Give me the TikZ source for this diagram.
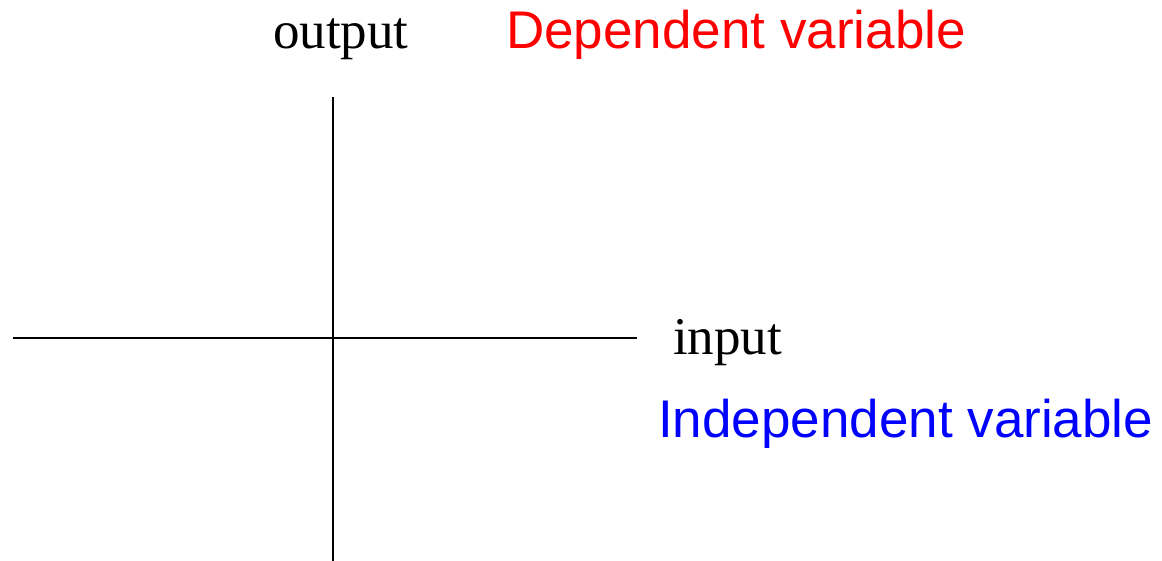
\documentclass[tikz,border=0pt]{standalone}
\usepackage{fontspec}
\setmainfont{Liberation Serif}
\newfontfamily\labelsans{Liberation Sans}
\begin{document}
\begin{tikzpicture}[x=1pt,y=-1pt,
  axis/.style={line width=2pt,black},
  axlabel/.style={inner sep=0pt,anchor=base west,font=\fontsize{53}{60}\selectfont},
  varlabel/.style={inner sep=0pt,anchor=base west,font=\labelsans\fontsize{53}{60}\selectfont}]
  \useasboundingbox (0,0) rectangle (1162,561);
  % axes
  \coordinate (ytop) at (333,97);
  \coordinate (ybot) at (333,561);
  \coordinate (xleft) at (13,338);
  \coordinate (xright) at (637,338);
  \draw[axis] (ytop) -- (ybot);
  \draw[axis] (xleft) -- (xright);
  % labels
  \node[axlabel] (out) at (273,49) {output};
  \node[varlabel,text=red] (dep) at (506,49) {Dependent variable};
  \node[axlabel] (in) at (673,354) {input};
  \node[varlabel,text=blue] (indep) at (658,437) {Independent variable};
\end{tikzpicture}
\end{document}
